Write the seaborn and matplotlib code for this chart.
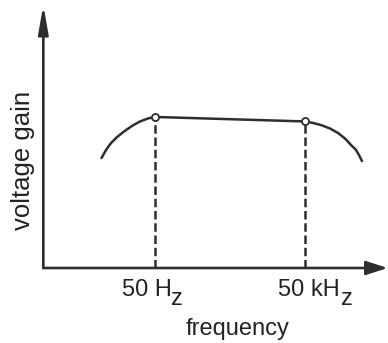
import numpy as np
import pandas as pd
import matplotlib
matplotlib.use("Agg")
import matplotlib.pyplot as plt
import seaborn as sns

# ---- data (frequency in Hz, relative voltage gain) ----
freq_low_rolloff = [4.26, 5.24, 6.59, 8.69, 12.0, 17.3, 25.1, 36.2, 50]
gain_low_rolloff = [0.733, 0.787, 0.833, 0.873, 0.910, 0.947, 0.977, 0.997, 1.007]
freq_high_rolloff = [50000, 72300, 104500, 158000, 229000, 316000, 416000, 524000, 601000, 690000]
gain_high_rolloff = [0.977, 0.967, 0.953, 0.930, 0.900, 0.863, 0.820, 0.787, 0.753, 0.713]
corner_freqs = [50, 50000]
corner_gains = [1.007, 0.977]
tick_labels = ["50 H", "50 kH"]
tick_subscript = "z"
x_label = "frequency"
y_label = "voltage gain"

# axis extents (frequency / gain units)
axis_origin_freq = 0.292
axis_end_freq = 2.25e6
axis_end_gain = 1.753

sns.set_style("white")
plt.rcParams["font.family"] = ["Liberation Sans", "DejaVu Sans"]

ink = "#2e2e2e"
fig = plt.figure(figsize=(3.88, 3.43), dpi=100)
ax = fig.add_axes([0, 0, 1, 1])
ax.set_xscale("log")

curve = pd.DataFrame({
    "freq": freq_low_rolloff + freq_high_rolloff,
    "gain": gain_low_rolloff + gain_high_rolloff,
})
sns.lineplot(data=curve, x="freq", y="gain", sort=False, color=ink,
             linewidth=1.8, ax=ax, solid_capstyle="round", zorder=3)

# dashed drop lines to the frequency axis
for f, g in zip(corner_freqs, corner_gains):
    ax.plot([f, f], [0, g], color=ink, linewidth=1.8, linestyle=(0, (3.4, 1.5)), zorder=2)

# corner markers
corners = pd.DataFrame({"freq": corner_freqs, "gain": corner_gains})
sns.scatterplot(data=corners, x="freq", y="gain", s=26, facecolor="white",
                edgecolor=ink, linewidth=1.3, ax=ax, zorder=5)

# axes with arrows
ax.annotate("", xy=(axis_origin_freq, axis_end_gain), xytext=(axis_origin_freq, 0),
            arrowprops=dict(arrowstyle="-|>,head_length=1.7,head_width=0.3",
                            mutation_scale=10, color=ink, lw=1.9,
                            shrinkA=0, shrinkB=0), zorder=4)
ax.annotate("", xy=(axis_end_freq, 0), xytext=(axis_origin_freq, 0),
            arrowprops=dict(arrowstyle="-|>,head_length=1.3,head_width=0.42",
                            mutation_scale=10, color=ink, lw=1.9,
                            shrinkA=0, shrinkB=0), zorder=4)

ax.set_xlim(10 ** -1.401, 10 ** 6.359)
ax.set_ylim(-0.5, 1.7867)
ax.axis("off")

W, H = 388, 343
def fx(px):
    return px / W
def fy(py):
    return 1 - py / H

fs = 17
txt = "#222222"
fig.text(fx(122.5), fy(296.5), tick_labels[0], fontsize=fs, color=txt, ha="left", va="baseline")
fig.text(fx(171.5), fy(305), tick_subscript, fontsize=fs, color=txt, ha="left", va="baseline")
fig.text(fx(277.5), fy(296.5), tick_labels[1], fontsize=fs, color=txt, ha="left", va="baseline")
fig.text(fx(340.5), fy(305), tick_subscript, fontsize=fs, color=txt, ha="left", va="baseline")
fig.text(fx(238), fy(335), x_label, fontsize=fs, color=txt, ha="center", va="baseline")
fig.text(fx(23), fy(160), y_label, fontsize=18.5, color=txt, ha="center", va="center", rotation=90)

fig.savefig("out.png", dpi=100)
